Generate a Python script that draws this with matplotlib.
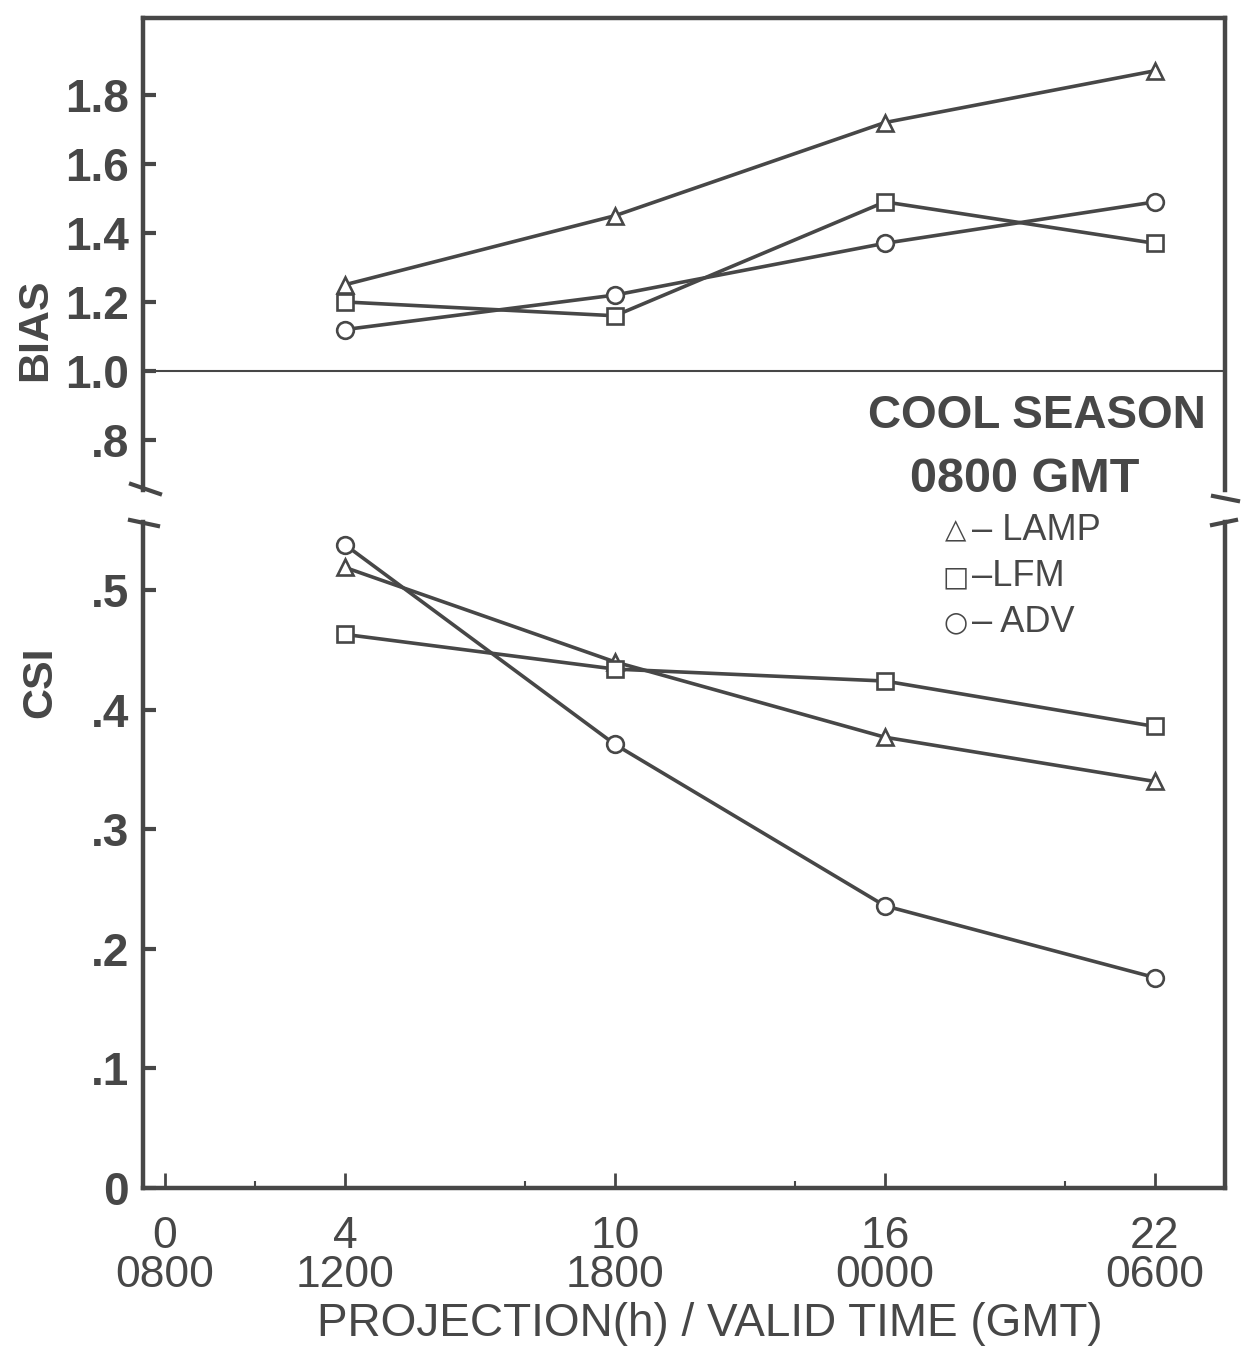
import matplotlib
matplotlib.use("Agg")
import matplotlib.pyplot as plt

# ---- data ----
projection_h = [4, 10, 16, 22]
bias_lamp = [1.25, 1.45, 1.72, 1.87]
bias_lfm = [1.20, 1.16, 1.49, 1.37]
bias_adv = [1.12, 1.22, 1.37, 1.49]
csi_lamp = [0.519, 0.440, 0.377, 0.340]
csi_lfm = [0.463, 0.434, 0.424, 0.386]
csi_adv = [0.538, 0.371, 0.236, 0.176]
xtick_vals = [0, 4, 10, 16, 22]
xtick_labels = ["0\n0800", "4\n1200", "10\n1800", "16\n0000", "22\n0600"]
bias_ticks = [0.8, 1.0, 1.2, 1.4, 1.6, 1.8]
bias_labels = [".8", "1.0", "1.2", "1.4", "1.6", "1.8"]
csi_ticks = [0, 0.1, 0.2, 0.3, 0.4, 0.5]
csi_labels = ["0", ".1", ".2", ".3", ".4", ".5"]
legend_names = ["LAMP", "LFM", "ADV"]
legend_symbols = ["△", "□", "○"]

INK = "#474747"
SANS = ['Liberation Sans', 'DejaVu Sans']
plt.rcParams['font.family'] = SANS

fig = plt.figure(figsize=(12.48, 13.51), dpi=100)
W, H = 1248, 1351

def fx(px):
    return px / W

def fy(py):
    return 1 - py / H

left, right = 143, 1225
ax1 = fig.add_axes([fx(left), fy(490), fx(right - left), fy(18) - fy(490)])
ax2 = fig.add_axes([fx(left), fy(1188), fx(right - left), fy(522) - fy(1188)])

xlim = (-0.49, 23.56)
lw = 2.6
ms = 12
series = [("^", bias_lamp, csi_lamp), ("s", bias_lfm, csi_lfm), ("o", bias_adv, csi_adv)]
for m, b, c in series:
    ax1.plot(projection_h, b, color=INK, lw=lw, marker=m, ms=ms, mfc="white",
             mec=INK, mew=1.9, clip_on=False, zorder=3)
    ax2.plot(projection_h, c, color=INK, lw=lw, marker=m, ms=ms, mfc="white",
             mec=INK, mew=1.9, clip_on=False, zorder=3)

ax1.axhline(1.0, color=INK, lw=1.5)

ax1.set_xlim(*xlim)
ax2.set_xlim(*xlim)
ax1.set_ylim(0.655, 2.023)
ax2.set_ylim(0, 0.557)

for ax in (ax1, ax2):
    for s in ax.spines.values():
        s.set_color(INK)
        s.set_linewidth(3.2)
ax1.spines['bottom'].set_visible(False)
ax2.spines['top'].set_visible(False)

ax1.set_xticks([])
ax1.set_yticks(bias_ticks)
ax1.set_yticklabels(bias_labels)
ax2.set_yticks(csi_ticks)
ax2.set_yticklabels(csi_labels)
ax2.set_xticks(xtick_vals)
ax2.set_xticklabels(xtick_labels, linespacing=0.95)
ax2.set_xticks([2, 8, 14, 20], minor=True)

for ax in (ax1, ax2):
    ax.tick_params(axis='y', direction='in', length=9, width=3, color=INK,
                   labelsize=33, labelcolor=INK, pad=10, right=False)
ax2.tick_params(axis='x', direction='in', length=11, width=2, color=INK,
                labelsize=32, labelcolor=INK, pad=20)
ax2.tick_params(axis='x', which='minor', direction='in', length=5, width=1.5, color=INK)
for t in ax1.get_yticklabels() + ax2.get_yticklabels():
    t.set_fontweight('bold')

fig.text(fx(35), fy(330), "BIAS", rotation=90, ha='center', va='center',
         fontsize=31, fontweight='bold', color=INK)
fig.text(fx(40), fy(682), "CSI", rotation=90, ha='center', va='center',
         fontsize=31, fontweight='bold', color=INK)
fig.text(fx(710), fy(1324), "PROJECTION(h) / VALID TIME (GMT)", ha='center', va='center',
         fontsize=33, color=INK)

fig.text(fx(1037), fy(416), "COOL SEASON", ha='center', va='center', fontsize=33,
         fontweight='bold', color=INK)
fig.text(fx(1025), fy(480), "0800 GMT", ha='center', va='center', fontsize=35,
         fontweight='bold', color=INK)
legend_rows = [(legend_symbols[0], "– " + legend_names[0], 530, 972),
               (legend_symbols[1], "–" + legend_names[1], 577, 972),
               (legend_symbols[2], "– " + legend_names[2], 622, 972)]
for sym, name, py, px in legend_rows:
    fig.text(fx(956), fy(py), sym, ha='center', va='center', fontsize=20, color=INK,
             family=['DejaVu Sans'])
    fig.text(fx(px), fy(py), name, ha='left', va='center', fontsize=26, color=INK)

kw = dict(color=INK, lw=3, clip_on=False, transform=fig.transFigure)
fig.add_artist(plt.Line2D([fx(131), fx(160)], [fy(484), fy(494)], **kw))
fig.add_artist(plt.Line2D([fx(1213), fx(1238)], [fy(496), fy(501)], **kw))
fig.add_artist(plt.Line2D([fx(130), fx(158)], [fy(520), fy(526)], **kw))
fig.add_artist(plt.Line2D([fx(1212), fx(1236)], [fy(525), fy(520)], **kw))

fig.savefig("out.png", dpi=100, facecolor="white")
